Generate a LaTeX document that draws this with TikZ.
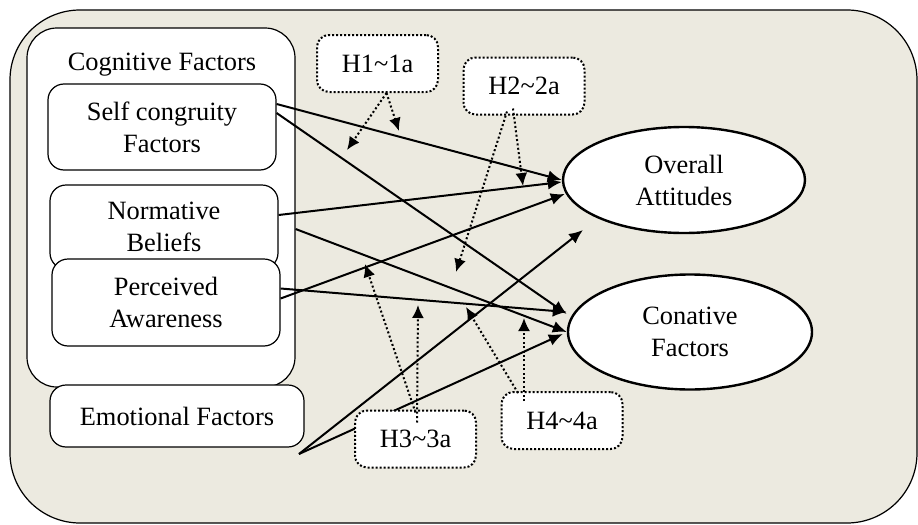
\documentclass[tikz,border=0pt]{standalone}
\usepackage{fontspec}
\setmainfont{Liberation Serif}
\usetikzlibrary{arrows.meta,shapes.geometric}
\definecolor{paper}{RGB}{236,234,224}

\begin{document}
\begin{tikzpicture}[x=0.5pt,y=-0.5pt,
  font=\fontsize{13.2}{16}\selectfont,
  box/.style={draw,fill=white,rounded corners=8pt,line width=0.6pt,align=center,inner sep=0pt},
  oval/.style={draw,fill=white,ellipse,line width=1.2pt,align=center,inner sep=0pt},
  hyp/.style={draw,fill=white,rounded corners=6pt,line width=1pt,dash pattern=on 1pt off 1pt,
    minimum width=60.5pt,minimum height=28.5pt,inner sep=0pt},
  link/.style={-{Latex[length=7pt,width=6pt]},line width=1pt},
  hlink/.style={-{Latex[length=6.5pt,width=6pt]},line width=1pt,dash pattern=on 1pt off 1.2pt}]
\useasboundingbox (0,0) rectangle (918,525);
\draw[fill=paper,rounded corners=35pt,line width=0.6pt] (10,10) rectangle (917,523);

\node[box,rounded corners=15pt,minimum width=134pt,minimum height=179.5pt] (Cog) at (161,207.5) {};
\node (CogT) at (162,65) {Cognitive Factors};
\node[box,minimum width=114pt,minimum height=43pt] (SC) at (162,127) {Self congruity\\Factors};
\node[box,minimum width=114pt,minimum height=42pt] (NB) at (164,227) {Normative\\Beliefs};
\node[box,minimum width=114pt,minimum height=43.5pt] (PA) at (166,302.5) {Perceived\\Awareness};
\node[box,minimum width=127pt,minimum height=31pt] (EF) at (177,416) {Emotional Factors};
\node[oval,minimum width=121pt,minimum height=53pt] (OA) at (684,180) {Overall\\Attitudes};
\node[oval,minimum width=122pt,minimum height=57.5pt] (CF) at (690,332) {Conative\\Factors};

\coordinate (EFo) at (299,454);
\coordinate (OAi) at (583,230);

\draw[link] ([yshift=11.5pt]SC.east) -- (OA.west);
\draw[link] ([yshift=7pt]SC.east) -- ([yshift=9pt]CF.west);
\draw[link] ([yshift=6pt]NB.east) -- ([yshift=-1pt]OA.west);
\draw[link] ([xshift=8.5pt,yshift=-1pt]NB.east) -- (CF.west);
\draw[link] ([yshift=2pt]PA.east) -- ([xshift=1.5pt,yshift=-7pt]OA.west);
\draw[link] ([yshift=7pt]PA.east) -- ([yshift=10pt]CF.west);
\draw[link] (EFo) -- (OAi);
\draw[link] (EFo) -- ([xshift=-2pt,yshift=-1pt]CF.west);

\node[hyp] (H1) at (377.5,63.5) {H1\textasciitilde{}1a};
\node[hyp] (H2) at (524,86) {H2\textasciitilde{}2a};
\node[hyp] (H3) at (415.5,439) {H3\textasciitilde{}3a};
\node[hyp] (H4) at (562,420.5) {H4\textasciitilde{}4a};

\coordinate (h1a) at (347,150);
\coordinate (h1b) at (399,131);
\coordinate (h2a) at (456,272);
\coordinate (h2b) at (523,186);
\coordinate (h3a) at (365,264);
\coordinate (h3b) at (418,305);
\coordinate (h4a) at (466,307);
\coordinate (h4b) at (524,318);

\draw[hlink] ([xshift=4.5pt]H1.south) -- (h1a);
\draw[hlink] ([xshift=4.5pt]H1.south) -- (h1b);
\draw[hlink] ([xshift=-8.5pt,yshift=2pt]H2.south) -- (h2a);
\draw[hlink] ([xshift=-5.5pt,yshift=3.5pt]H2.south) -- (h2b);
\draw[hlink] ([yshift=-1.5pt]H3.north) -- (h3a);
\draw[hlink] ([xshift=0.75pt,yshift=-6.5pt]H3.north) -- (h3b);
\draw[hlink] ([xshift=-22pt,yshift=-1pt]H4.north) -- (h4a);
\draw[hlink] ([xshift=-19pt,yshift=-5pt]H4.north) -- (h4b);
\end{tikzpicture}
\end{document}
